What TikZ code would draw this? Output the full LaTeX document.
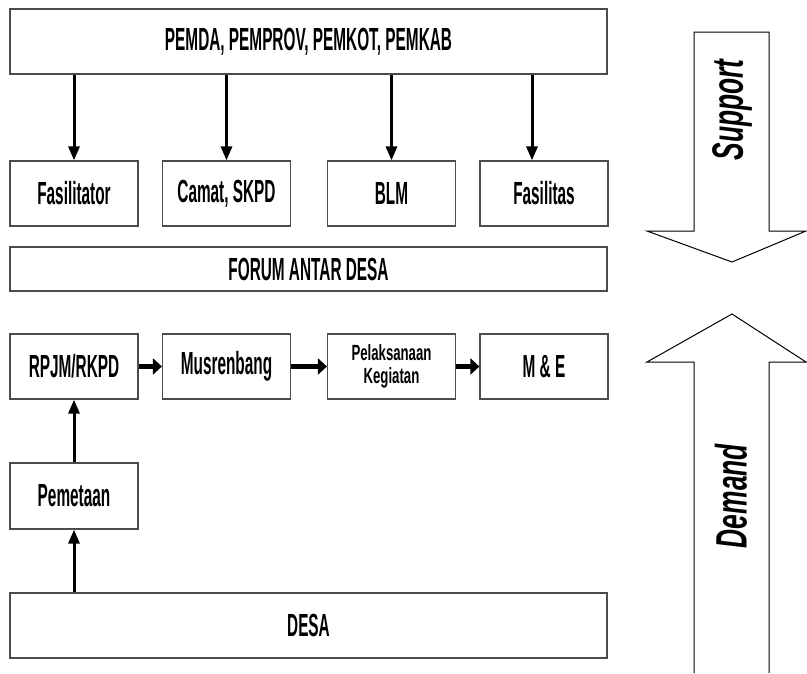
\documentclass[tikz,border=0pt]{standalone}
\usepackage{fontspec}
\newfontfamily\boxfont[FakeStretch=0.48]{Liberation Sans}
\newfontfamily\smallfont[FakeStretch=0.6]{Liberation Sans}
\newfontfamily\bigfont[FakeStretch=0.6]{Liberation Sans}
\usepackage{tikz}
\usetikzlibrary{arrows.meta}
\usetikzlibrary{positioning}
\tikzstyle{box} = [draw=black!70, line width=1.2pt, minimum width=128pt, minimum height=65pt, inner sep=0pt, align=center, font={\boxfont\bfseries\fontsize{32}{34}\selectfont}]
\tikzstyle{wide} = [box, minimum width=597pt]
\tikzstyle{arrow} = [line width=3pt, -{Triangle[length=14pt,width=11pt]}]
\tikzstyle{harrow} = [line width=5pt, -{Triangle[length=9pt,width=16pt]}]
\tikzstyle{bigarrow} = [draw=black, line width=1pt, line join=miter]
\tikzstyle{label} = [rotate=90, inner sep=0pt, font={\bigfont\bfseries\itshape\fontsize{44}{48}\selectfont}]

\begin{document}
\begin{tikzpicture}[x=1pt, y=-1pt]
    \useasboundingbox (0, 0) rectangle (807, 673);
    % support side
    \node (pemda) at (308.5, 41.5) [wide] {PEMDA, PEMPROV, PEMKOT, PEMKAB};
    \node (fasilitator) at (74, 193.5) [box] {Fasilitator};
    \node (camat) at (226.5, 193.5) [box] {Camat, SKPD};
    \node (blm) at (391.5, 193.5) [box] {BLM};
    \node (fasilitas) at (544, 193.5) [box] {Fasilitas};
    \draw [arrow] (pemda.south -| fasilitator.north) -- (fasilitator.north);
    \draw [arrow] (pemda.south -| camat.north) -- (camat.north);
    \draw [arrow] (pemda.south -| blm.north) -- (blm.north);
    \draw [arrow] ([xshift=-12pt]fasilitas.north |- pemda.south) -- ([xshift=-12pt]fasilitas.north);
    \node (forum) at (308.5, 269) [wide, minimum height=44pt] {FORUM ANTAR DESA};
    % demand side
    \node (rpjm) at (74, 366.5) [box] {RPJM/RKPD};
    \node (musrenbang) at (226.5, 366.5) [box] {Musrenbang};
    \node (pelaksanaan) at (391.5, 366.5) [box, font={\smallfont\bfseries\fontsize{22}{23}\selectfont}] {Pelaksanaan\\Kegiatan};
    \node (monev) at (544, 366.5) [box] {M \& E};
    \node (pemetaan) at (74, 496) [box, minimum height=66pt] {Pemetaan};
    \node (desa) at (308.5, 625.5) [wide] {DESA};
    \draw [harrow] (rpjm) -- (musrenbang);
    \draw [harrow] (musrenbang) -- (pelaksanaan);
    \draw [harrow] (pelaksanaan) -- (monev);
    \draw [arrow] (desa.north -| pemetaan.south) -- (pemetaan.south);
    \draw [arrow] (pemetaan) -- (rpjm);
    % big arrows
    \draw [bigarrow] (694, 32) -- (769, 32) -- (769, 231) -- (806, 231) -- (732, 262) -- (647, 231) -- (694, 231) -- cycle;
    \draw [bigarrow] (694, 673) -- (694, 362) -- (647, 362) -- (732, 314) -- (806, 362) -- (769, 362) -- (769, 673);
    \node (support) at (732, 110) [label] {Support};
    \node (demand) at (731, 496) [label] {Demand};
\end{tikzpicture}
\end{document}
